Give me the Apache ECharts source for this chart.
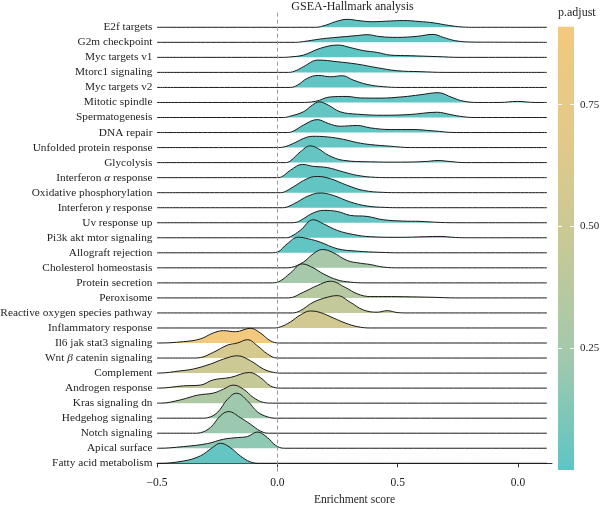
<!DOCTYPE html>
<html><head><meta charset="utf-8">
<script src="https://cdn.jsdelivr.net/npm/echarts@6/dist/echarts.min.js"></script>
<style>html,body{margin:0;padding:0;background:#fff}#c{width:600px;height:506px}</style>
</head><body><div id="c"></div>
<script>
// ---------- data ----------
const categories = [
  'E2f targets','G2m checkpoint','Myc targets v1','Mtorc1 signaling','Myc targets v2',
  'Mitotic spindle','Spermatogenesis','DNA repair','Unfolded protein response','Glycolysis',
  'Interferon α response','Oxidative phosphorylation','Interferon γ response','Uv response up',
  'Pi3k akt mtor signaling','Allograft rejection','Cholesterol homeostasis','Protein secretion',
  'Peroxisome','Reactive oxygen species pathway','Inflammatory response','Il6 jak stat3 signaling',
  'Wnt β catenin signaling','Complement','Androgen response','Kras signaling dn','Hedgehog signaling',
  'Notch signaling','Apical surface','Fatty acid metabolism'
];
const pAdjust = [
  0.001,0.002,0.001,0.001,0.002,0.01,0.02,0.01,0.02,0.02,
  0.01,0.01,0.01,0.02,0.02,0.01,0.27,0.26,0.36,0.44,
  0.55,0.91,0.58,0.50,0.45,0.32,0.22,0.21,0.17,0.02
];
// density profiles: [enrichment score, ridge height (in row spacings)]
const densities = [
  [[0.158,0],[0.199,0.13],[0.241,0.37],[0.290,0.53],[0.344,0.43],[0.394,0.37],[0.469,0.42],[0.523,0.45],[0.593,0.38],[0.647,0.30],[0.710,0.13],[0.768,0.02],[0.822,0]],
  [[0.075,0],[0.108,0.05],[0.178,0.22],[0.232,0.31],[0.332,0.45],[0.373,0.51],[0.427,0.38],[0.498,0.33],[0.581,0.40],[0.647,0.53],[0.689,0.33],[0.739,0.11],[0.801,0.02],[0.884,0.01]],
  [[0.025,0],[0.054,0.03],[0.108,0.15],[0.178,0.60],[0.253,0.82],[0.303,0.65],[0.357,0.45],[0.415,0.33],[0.469,0.15],[0.552,0.11],[0.664,0.05],[0.759,0]],
  [[0.046,0],[0.079,0.13],[0.108,0.38],[0.170,0.82],[0.249,0.71],[0.332,0.55],[0.415,0.31],[0.498,0.11],[0.593,0.05],[0.697,0]],
  [[0.054,0],[0.083,0.15],[0.124,0.60],[0.170,0.80],[0.220,0.71],[0.270,0.78],[0.315,0.49],[0.373,0.20],[0.440,0.05],[0.510,0]],
  [[0.095,0],[0.158,0.07],[0.220,0.37],[0.290,0.40],[0.344,0.30],[0.427,0.29],[0.523,0.38],[0.593,0.51],[0.668,0.65],[0.726,0.33],[0.772,0.09],[0.830,0],[0.925,0],[0.996,0.07],[1.071,0]],
  [[0.025,0],[0.054,0.09],[0.108,0.38],[0.145,0.82],[0.174,1.04],[0.212,0.82],[0.261,0.38],[0.332,0.22],[0.440,0.15],[0.552,0.20],[0.664,0.35],[0.718,0.20],[0.772,0.05],[0.822,0]],
  [[0.041,0],[0.066,0.09],[0.108,0.49],[0.166,0.86],[0.212,0.60],[0.261,0.42],[0.332,0.47],[0.386,0.31],[0.469,0.20],[0.564,0.20],[0.647,0.11],[0.743,0]],
  [[0.004,0],[0.029,0.05],[0.066,0.27],[0.108,0.60],[0.145,0.75],[0.207,0.71],[0.274,0.55],[0.332,0.33],[0.386,0.20],[0.469,0.09],[0.552,0]],
  [[0.033,0],[0.054,0.11],[0.095,0.71],[0.137,1.11],[0.170,0.93],[0.212,0.49],[0.274,0.15],[0.386,0.05],[0.510,0.03],[0.614,0.07],[0.668,0.14],[0.718,0.07],[0.780,0]],
  [[-0.004,0],[0.017,0.05],[0.054,0.49],[0.104,0.88],[0.149,0.75],[0.207,0.67],[0.274,0.38],[0.332,0.15],[0.407,0.02],[0.469,0]],
  [[0.012,0],[0.029,0.05],[0.066,0.38],[0.124,0.93],[0.166,1.08],[0.220,0.93],[0.290,0.49],[0.357,0.15],[0.440,0.02],[0.510,0]],
  [[0.021,0],[0.041,0.05],[0.083,0.38],[0.124,0.75],[0.178,0.98],[0.232,0.82],[0.303,0.38],[0.373,0.11],[0.448,0.02],[0.510,0]],
  [[0.054,0],[0.079,0.03],[0.108,0.27],[0.149,0.65],[0.191,0.82],[0.249,0.75],[0.303,0.49],[0.373,0.42],[0.440,0.20],[0.523,0.11],[0.593,0.09],[0.676,0.02],[0.759,0]],
  [[0.033,0],[0.054,0.07],[0.095,0.49],[0.149,1.20],[0.191,0.93],[0.249,0.49],[0.315,0.22],[0.386,0.07],[0.510,0.03],[0.614,0.07],[0.676,0.09],[0.739,0.02],[0.801,0]],
  [[-0.029,0],[0.000,0.05],[0.041,0.60],[0.087,1.04],[0.129,0.93],[0.178,0.71],[0.249,0.27],[0.332,0.11],[0.427,0.03],[0.510,0]],
  [[0.037,0],[0.058,0.03],[0.108,0.38],[0.149,0.93],[0.187,1.22],[0.228,1.04],[0.290,0.49],[0.344,0.31],[0.386,0.22],[0.440,0.05],[0.510,0]],
  [[-0.021,0],[0.012,0.13],[0.054,0.65],[0.104,1.26],[0.149,1.00],[0.191,0.60],[0.249,0.20],[0.303,0.05],[0.365,0]],
  [[0.046,0],[0.108,0.38],[0.166,0.82],[0.220,1.11],[0.282,0.70],[0.332,0.27],[0.386,0.09],[0.456,0.09],[0.523,0.08],[0.647,0.04],[0.739,0]],
  [[0.062,0],[0.095,0.15],[0.149,0.71],[0.207,1.04],[0.249,1.15],[0.303,0.71],[0.357,0.20],[0.415,0.05],[0.456,0.15],[0.502,0.02],[0.552,0]],
  [[-0.017,0],[0.012,0.07],[0.054,0.40],[0.095,0.86],[0.137,1.13],[0.178,1.03],[0.232,0.67],[0.282,0.33],[0.332,0.09],[0.386,0]],
  [[-0.494,0],[-0.390,0.09],[-0.320,0.27],[-0.266,0.67],[-0.224,0.82],[-0.174,0.75],[-0.112,0.98],[-0.071,0.67],[-0.029,0.15],[0.008,0]],
  [[-0.349,0],[-0.320,0.03],[-0.266,0.38],[-0.207,0.86],[-0.166,1.00],[-0.124,1.22],[-0.083,0.82],[-0.041,0.27],[0.000,0]],
  [[-0.494,0],[-0.402,0.15],[-0.349,0.27],[-0.278,0.60],[-0.224,0.93],[-0.166,1.15],[-0.112,0.82],[-0.058,0.27],[-0.017,0.05],[0.021,0]],
  [[-0.494,0],[-0.390,0.15],[-0.320,0.20],[-0.266,0.55],[-0.195,0.71],[-0.116,1.04],[-0.071,0.71],[-0.029,0.15],[0.012,0]],
  [[-0.485,0],[-0.402,0.22],[-0.332,0.53],[-0.266,0.67],[-0.224,0.93],[-0.183,1.20],[-0.141,0.93],[-0.100,0.38],[-0.058,0.05],[-0.021,0]],
  [[-0.311,0],[-0.290,0.03],[-0.249,0.38],[-0.207,1.26],[-0.170,1.66],[-0.124,1.15],[-0.083,0.42],[-0.041,0.09],[-0.004,0]],
  [[-0.340,0],[-0.320,0.03],[-0.278,0.38],[-0.237,1.15],[-0.203,1.44],[-0.154,1.04],[-0.112,0.60],[-0.071,0.15],[-0.037,0]],
  [[-0.494,0],[-0.390,0.11],[-0.290,0.31],[-0.224,0.60],[-0.166,0.71],[-0.124,0.78],[-0.083,1.08],[-0.041,0.71],[-0.008,0.20],[0.029,0]],
  [[-0.494,0],[-0.390,0.15],[-0.320,0.49],[-0.270,1.04],[-0.237,1.33],[-0.195,1.04],[-0.154,0.49],[-0.112,0.09],[-0.071,0]]
];
const scoreRange = [-0.5, 1.12];        // range the densities span
const xTickValues = [-0.5, 0, 0.5, 1.0];
const xTickLabels = ['\u22120.5', '0.0', '0.5', '0.0'];
const colorbarTicks = [0.25, 0.5, 0.75];
const colorScale = ['#5ec5c5', '#a0c9ad', '#c6c997', '#e2c98a', '#f3c97e'];

// ---------- chart ----------
const FONT = 'Liberation Serif';
const FS = 11.55;
const FSY = 11.3;
const TXT = '#1e1e1e';
const n = categories.length;
const pMax = Math.max(...pAdjust);
const pMin = 0;
const fillFor = p => echarts.color.lerp((p - pMin) / (pMax - pMin), colorScale);

const series = categories.map((name, i) => {
  const base = n - 1 - i;
  const pts = [[scoreRange[0], 0], ...densities[i], [scoreRange[1], 0]];
  const s = {
    type: 'line', name, silent: true, animation: false,
    xAxisIndex: 0, yAxisIndex: 0,
    data: pts.map(([x, h]) => [x, base + h]),
    smooth: 0.4, symbol: 'none',
    lineStyle: { color: '#1a1a1a', width: 1 },
    areaStyle: { origin: base, color: fillFor(pAdjust[i]), opacity: 1 }
  };
  if (i === 0) {
    s.markLine = {
      silent: true, symbol: 'none', animation: false, label: { show: false },
      lineStyle: { type: [4, 3], color: '#9a9a9a', width: 1 },
      data: [{ xAxis: 0 }]
    };
  }
  return s;
});

const gradStops = colorScale.map((c, k) => ({ offset: k / (colorScale.length - 1), color: c }));
series.push({
  type: 'bar', silent: true, animation: false,
  xAxisIndex: 1, yAxisIndex: 1,
  data: [pMax], barWidth: '100%',
  itemStyle: { color: new echarts.graphic.LinearGradient(0, 1, 0, 0, gradStops) }
});

const labelFor = v => categories[n - 1 - v].replace(/([α-ω])/g, '{g|$1}');

const option = {
  backgroundColor: '#fff',
  animation: false,
  title: [
    { text: 'GSEA-Hallmark analysis', left: 352.5, top: 0.5, textAlign: 'center', padding: 0,
      textStyle: { fontFamily: FONT, fontSize: 12, fontWeight: 'normal', color: TXT } },
    { text: 'p.adjust', left: 558, top: 6.5, padding: 0,
      textStyle: { fontFamily: FONT, fontSize: 12, fontWeight: 'normal', color: TXT } }
  ],
  grid: [
    { left: 157, right: 48, top: 12.27, bottom: 34.3, containLabel: false, outerBoundsMode: 'none' },
    { left: 558, width: 16, top: 26.7, height: 443.3, containLabel: false, outerBoundsMode: 'none' }
  ],
  xAxis: [
    { type: 'value', gridIndex: 0, min: -0.5, max: 1.141,
      name: 'Enrichment score', nameLocation: 'middle', nameGap: 18,
      nameTextStyle: { fontFamily: FONT, fontSize: FS, color: TXT },
      axisLine: { lineStyle: { color: '#333', width: 1 } },
      axisTick: { length: 4, lineStyle: { color: '#333' }, customValues: xTickValues },
      axisLabel: { customValues: xTickValues, margin: 5, fontFamily: FONT, fontSize: FS, color: TXT,
        formatter: v => xTickLabels[xTickValues.indexOf(v)] },
      splitLine: { show: false } },
    { type: 'category', gridIndex: 1, data: ['p'], show: false }
  ],
  yAxis: [
    { type: 'value', gridIndex: 0, min: -0.56, max: 30,
      axisLine: { show: false }, axisTick: { show: false }, splitLine: { show: false },
      axisLabel: { customValues: categories.map((c, k) => k), margin: 4.5,
        fontFamily: FONT, fontSize: FSY, color: TXT,
        formatter: v => labelFor(v),
        rich: { g: { fontStyle: 'italic', fontFamily: FONT, fontSize: FSY, color: TXT } } } },
    { type: 'value', gridIndex: 1, min: pMin, max: pMax, position: 'left', z: 10,
      axisLine: { show: false }, splitLine: { show: false },
      axisTick: { show: true, inside: true, length: 4, customValues: colorbarTicks, lineStyle: { color: '#fff', width: 1 } },
      axisLabel: { show: false } },
    { type: 'value', gridIndex: 1, min: pMin, max: pMax, position: 'right', z: 10,
      axisLine: { show: false }, splitLine: { show: false },
      axisTick: { show: true, inside: true, length: 4, customValues: colorbarTicks, lineStyle: { color: '#fff', width: 1 } },
      axisLabel: { customValues: colorbarTicks, margin: 6, fontFamily: FONT, fontSize: 11, color: TXT,
        formatter: v => v.toFixed(2) } }
  ],
  series
};
const chart = echarts.init(document.getElementById('c'), null, { renderer: 'canvas' });
chart.setOption(option);
</script>
</body></html>
